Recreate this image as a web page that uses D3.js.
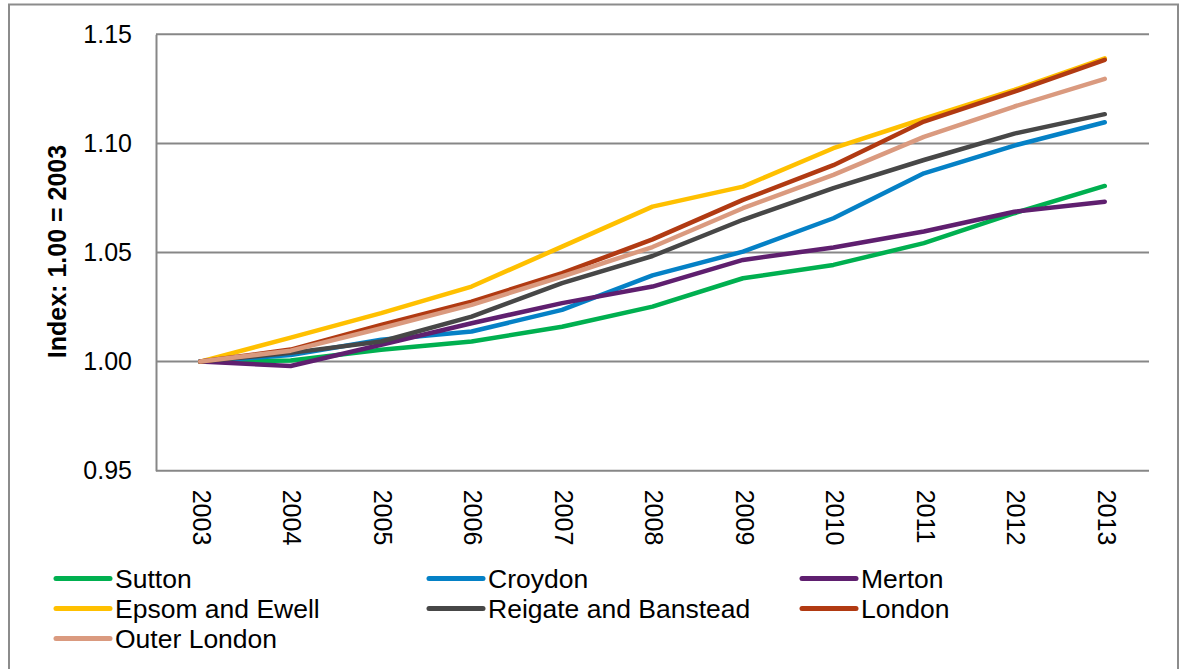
<!DOCTYPE html>
<html>
<head>
<meta charset="utf-8">
<script src="https://cdn.jsdelivr.net/npm/d3@7/dist/d3.min.js"></script>
<style>
  html, body { margin: 0; padding: 0; background: #fff; }
  svg { display: block; font-family: "Liberation Sans", Arial, sans-serif; }
</style>
</head>
<body>
<svg id="chart" width="1182" height="669"></svg>
<script>
// Index of growth, 2003 = 1.00
const years = ["2003","2004","2005","2006","2007","2008","2009","2010","2011","2012","2013"];

const sutton      = [1.000, 1.0005, 1.0054, 1.0092, 1.0160, 1.0252, 1.0382, 1.0443, 1.0543, 1.0680, 1.0805];
const croydon     = [1.000, 1.0030, 1.0100, 1.0138, 1.0237, 1.0395, 1.0504, 1.0657, 1.0863, 1.0990, 1.1097];
const merton      = [1.000, 0.9980, 1.0077, 1.0176, 1.0268, 1.0344, 1.0466, 1.0523, 1.0596, 1.0687, 1.0733];
const epsom       = [1.000, 1.0110, 1.0222, 1.0344, 1.0527, 1.0710, 1.0802, 1.0978, 1.1113, 1.1245, 1.1390];
const reigate     = [1.000, 1.0040, 1.0092, 1.0206, 1.0360, 1.0484, 1.0650, 1.0795, 1.0924, 1.1045, 1.1134];
const london      = [1.000, 1.0055, 1.0168, 1.0275, 1.0405, 1.0560, 1.0741, 1.0900, 1.1100, 1.1237, 1.1383];
const outerLondon = [1.000, 1.0050, 1.0153, 1.0260, 1.0390, 1.0525, 1.0703, 1.0856, 1.1030, 1.1169, 1.1296];

const seriesNames  = ["Sutton", "Croydon", "Merton", "Epsom and Ewell", "Reigate and Banstead", "London", "Outer London"];
const seriesValues = [sutton, croydon, merton, epsom, reigate, london, outerLondon];
const seriesColors = ["#00B050", "#0581C6", "#5F1F6F", "#FFC000", "#474747", "#B13A12", "#DA9A7F"];

const yTicks = [0.95, 1.00, 1.05, 1.10, 1.15];

const svg = d3.select("#chart");

// outer frame
svg.append("rect")
  .attr("x", 9).attr("y", 4.5)
  .attr("width", 1169).attr("height", 700)
  .attr("fill", "none").attr("stroke", "#8c8c8c").attr("stroke-width", 2);

const plot = { left: 156, right: 1149, top: 34.3, bottom: 470.7 };

const x = d3.scalePoint().domain(years).range([155, 1150]).padding(0.5);
const y = d3.scaleLinear().domain([0.95, 1.15]).range([plot.bottom, plot.top]);

// horizontal gridlines
svg.append("g")
  .selectAll("line")
  .data(yTicks)
  .join("line")
  .attr("x1", plot.left).attr("x2", plot.right)
  .attr("y1", d => y(d)).attr("y2", d => y(d))
  .attr("stroke", "#878787").attr("stroke-width", 2);

// y axis
const yAxis = d3.axisLeft(y).tickValues(yTicks).tickFormat(d3.format(".2f")).tickSize(0).tickPadding(24);
const gy = svg.append("g").attr("transform", `translate(${plot.left},0)`).call(yAxis);
gy.select(".domain").attr("stroke", "#878787").attr("stroke-width", 2);
gy.selectAll("text").attr("font-size", 25).attr("fill", "#000")
  .attr("font-family", "'Liberation Sans', Arial, sans-serif");

// x axis (category labels rotated to read downwards)
const xAxis = d3.axisBottom(x).tickSize(0).tickPadding(0);
const gx = svg.append("g").attr("transform", `translate(0,${plot.bottom})`).call(xAxis);
gx.select(".domain").remove();
gx.selectAll("text")
  .attr("font-size", 25).attr("fill", "#000")
  .attr("font-family", "'Liberation Sans', Arial, sans-serif")
  .attr("text-anchor", "start")
  .attr("dy", "0.35em")
  .attr("y", 0)
  .attr("transform", "translate(1,19) rotate(90)");

// y axis title
svg.append("text")
  .attr("transform", `translate(66,${(plot.top + plot.bottom) / 2 - 1}) rotate(-90)`)
  .attr("text-anchor", "middle")
  .attr("font-size", 25).attr("font-weight", "bold").attr("fill", "#000")
  .text("Index: 1.00 = 2003");

// series lines
const line = d3.line().x((d, i) => x(years[i])).y(d => y(d));
svg.append("g")
  .selectAll("path")
  .data(seriesValues)
  .join("path")
  .attr("d", line)
  .attr("fill", "none")
  .attr("stroke", (d, i) => seriesColors[i])
  .attr("stroke-width", 4.5)
  .attr("stroke-linejoin", "round")
  .attr("stroke-linecap", "round");

// legend: three columns
const legend = svg.append("g");
const colX = [56, 429, 802];
const rowY = [578.5, 608.5, 638.5];
seriesNames.forEach((name, i) => {
  const cx = colX[i % 3], cy = rowY[Math.floor(i / 3)];
  legend.append("line")
    .attr("x1", cx).attr("x2", cx + 54)
    .attr("y1", cy).attr("y2", cy)
    .attr("stroke", seriesColors[i]).attr("stroke-width", 5)
    .attr("stroke-linecap", "round");
  legend.append("text")
    .attr("x", cx + 59).attr("y", cy).attr("dy", "0.36em")
    .attr("font-size", 26.5).attr("fill", "#000")
    .text(name);
});
</script>
</body>
</html>
